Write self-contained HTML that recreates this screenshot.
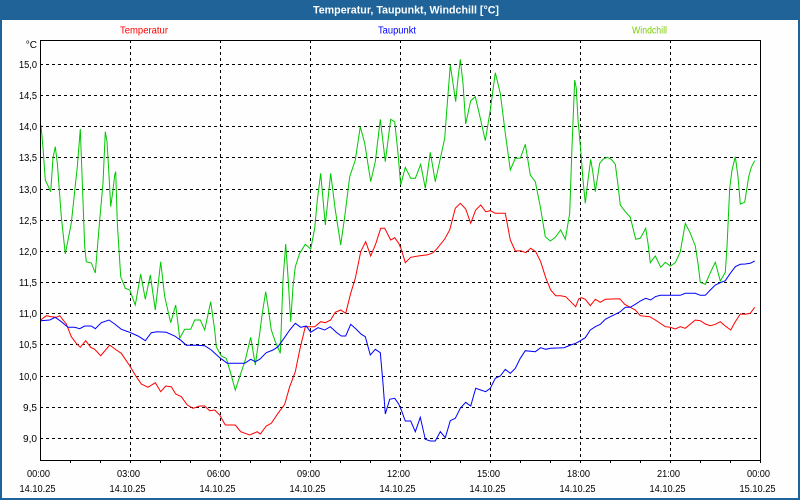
<!DOCTYPE html>
<html><head><meta charset="utf-8"><style>
html,body{margin:0;padding:0;background:#fff;}
svg{display:block;}
text{font-family:"Liberation Sans",Arial,sans-serif;}
</style></head><body>
<svg width="800" height="500" viewBox="0 0 800 500" xmlns="http://www.w3.org/2000/svg">
<rect x="0" y="0" width="800" height="500" fill="#fdfefd"/>
<rect x="0" y="0" width="800" height="20" fill="#1f6398"/>
<rect x="0" y="0" width="2" height="500" fill="#1f6398"/>
<rect x="798" y="0" width="2" height="500" fill="#1f6398"/>
<rect x="0" y="498" width="800" height="2" fill="#1f6398"/>
<text x="406" y="13.5" font-size="11" font-weight="bold" fill="#fff" text-anchor="middle" textLength="186" lengthAdjust="spacingAndGlyphs">Temperatur, Taupunkt, Windchill [°C]</text>
<text x="144" y="33.5" font-size="10" fill="#ff0000" text-anchor="middle" textLength="48" lengthAdjust="spacingAndGlyphs">Temperatur</text>
<text x="397" y="33.5" font-size="10" fill="#0000ff" text-anchor="middle" textLength="38" lengthAdjust="spacingAndGlyphs">Taupunkt</text>
<text x="649.5" y="33.5" font-size="10" fill="#7ccf00" text-anchor="middle" textLength="35" lengthAdjust="spacingAndGlyphs">Windchill</text>

<g stroke="#000" stroke-width="1" stroke-dasharray="3,3" shape-rendering="crispEdges">
<line x1="40" y1="64.5" x2="760" y2="64.5"/>
<line x1="40" y1="95.5" x2="760" y2="95.5"/>
<line x1="40" y1="126.5" x2="760" y2="126.5"/>
<line x1="40" y1="157.5" x2="760" y2="157.5"/>
<line x1="40" y1="189.5" x2="760" y2="189.5"/>
<line x1="40" y1="220.5" x2="760" y2="220.5"/>
<line x1="40" y1="251.5" x2="760" y2="251.5"/>
<line x1="40" y1="282.5" x2="760" y2="282.5"/>
<line x1="40" y1="313.5" x2="760" y2="313.5"/>
<line x1="40" y1="344.5" x2="760" y2="344.5"/>
<line x1="40" y1="376.5" x2="760" y2="376.5"/>
<line x1="40" y1="407.5" x2="760" y2="407.5"/>
<line x1="40" y1="438.5" x2="760" y2="438.5"/>
<line x1="130.5" y1="40" x2="130.5" y2="460"/>
<line x1="220.5" y1="40" x2="220.5" y2="460"/>
<line x1="310.5" y1="40" x2="310.5" y2="460"/>
<line x1="400.5" y1="40" x2="400.5" y2="460"/>
<line x1="490.5" y1="40" x2="490.5" y2="460"/>
<line x1="580.5" y1="40" x2="580.5" y2="460"/>
<line x1="670.5" y1="40" x2="670.5" y2="460"/>
</g>

<g fill="none" stroke-width="1">
<polyline stroke="#00c800" points="41,125 43,148 45.3,180 50.7,191.7 53,158 55.3,146.7 57.3,163 61.3,216.7 65.3,254 71.3,223 77.3,166.7 80.3,129 84.7,246.7 86.3,261.7 91.3,263 95.3,273 99.7,220 103,183 105.3,131.7 107,141.7 108.7,170 110.7,206.7 113,190 114.7,175 115.7,171.7 117.3,223 120.7,276.7 125.3,288.3 129.7,290 135.3,305 140.7,274 145.3,299.3 150.3,275 155.3,310 160.7,261.7 164.7,296.7 170.7,322.7 175.7,305 179.7,338.3 184.7,329.3 190.7,329.3 194.7,320 200.3,320 204.7,330 210.7,301.7 214.7,330 216.3,346.7 221.3,356 226.3,358.3 230.7,373.3 235.3,390 239.7,376.7 245.3,360 250.7,337.3 255.3,365 259.7,333.3 262.3,313.3 265.7,291.7 268,306.7 271.3,330 275.3,341.7 280.3,353.3 283,280 285.7,244 288,276.7 290.7,321.7 293,286.7 295.3,266.7 299.7,253.3 305.3,244.3 310.7,249 314.7,228.3 317.3,200 320.7,173.3 325.3,225 330.7,173.3 335.3,210 340.7,245 344.7,216.7 349.7,176.7 355.3,160 360.3,126.7 364.7,143.3 370.7,181.7 375.3,161.7 380.3,119.3 385.3,161.7 390.7,119.3 394.7,121.7 398,153.3 400.7,185 405.3,167.3 410.7,178.3 415.3,178.3 420.7,164.3 425.3,188.3 430.3,152.3 435.3,181.7 440.7,156.7 444.7,138.3 447.3,103.3 450.3,65 453,83.3 455.7,101.7 458,78.3 460.3,59.3 463,83.3 465.7,124 470.7,100.7 475.3,96.7 480.7,120 485.3,140.7 490.3,110 495.3,72.7 500.3,93.3 505.3,133.3 510.3,170 515.3,158.3 520.3,158.3 525.3,144.3 530.3,175 535.3,181.7 540.3,206.7 545.3,236.7 550.3,241 555.3,237.3 560.7,230 565.3,239.3 569.7,213.3 572,146.7 574.7,80 576.3,88.3 578,120 580.7,150 583,180 585.3,203.3 588,180 590.7,159.3 593,173.3 595.3,191.7 599.7,163.3 603,159.3 607.3,157.3 611.3,159.3 615.3,164.3 618,185 620.3,205 625.3,211.7 630.3,217.3 633,228.3 635.7,239.3 640.3,238.3 645.7,228.3 648,243.3 650.3,262.7 655.3,256 660.7,267.3 665.3,262.3 670.3,266 675.3,262.7 680.3,251.7 685.3,223.3 690.3,233.3 695.3,246 698,263.3 700.3,282.3 705.3,284.3 710.3,272.7 715.3,262.3 720.3,281 725.3,272.3 727,246.7 729.7,188.3 732,170 735.3,156.7 738,176.7 740.3,204 744.7,202.3 748.7,176.7 751.3,167.3 754.7,160.7"/>
<polyline stroke="#ff0000" points="40.7,320 46.3,315.7 51.3,316.7 56.3,317.3 59.7,315.7 66.3,324 71.3,336.7 76.3,343.3 80.3,347.3 85.7,340.7 90.7,347.3 94.7,349.3 100.7,355.7 109.7,345 116.3,350 121.3,353.3 129.7,365.7 136.3,376.7 141.3,384 148,387.3 155.3,382.7 160.7,391.7 165.7,386 171.3,386.7 175.7,394 181.3,396.7 187.3,405 193,408.3 199.7,406 204.7,406 209.7,410.7 214.7,410 219.7,415 225.3,425 235.3,425 240.7,431.7 249.7,435 257.3,431.7 260.3,434 266.3,426 271.3,423.3 278,413.3 284.7,404.3 289.7,386.7 295.3,371.7 299.7,350 305.3,326.7 314.7,326.7 320.7,321.7 325.3,322.7 330.7,320 335.3,312.3 340.7,310 345.7,313.3 350.7,293.3 355.3,278.3 360.7,251.7 365.7,241.7 370.7,256 375.7,244 380.7,228.3 384.7,228.3 390.7,240 394.7,237.7 398.7,243.3 401.3,249.3 405.3,262.7 410.7,257.3 419.7,255.7 428,254.7 433,252.7 437.3,248.3 444.7,239 449.7,230 455.3,208.3 460.3,203.3 465.7,209 470.7,223.3 475.7,210 480.7,205 485.7,211.7 490.3,210.7 495.3,213.3 505.3,213.3 510.3,240 515.3,251 520.7,250.7 525.7,252.7 530.7,248.3 535.7,251.7 540.7,261.7 545.7,277.7 550.7,290 555.7,295.7 560.7,295.7 565.7,296.7 570.7,301.7 575.7,306.7 578.7,299 581.3,297.7 585.3,299.3 590.3,305.7 595.3,299.3 600.3,302.3 605.3,299.3 619.7,298.7 624.7,304.3 630.3,307.3 635.3,310 640.3,315.7 649.7,316.7 655.3,320 665.3,326.7 670.3,327.3 675.3,329 680.3,326.7 685.3,328.3 695.3,320 700.3,320.7 705.3,324 710.3,325.7 715.3,324.3 720.3,321.7 725.3,326 730.7,330 735.3,321.7 740.3,314 745.3,314.3 750.3,313.3 754.7,307.3"/>
<polyline stroke="#0000ff" points="40.7,320.7 49.7,320 55.3,317.3 61.3,321.7 68,327.3 74.7,327.3 79.7,328.7 84.7,326 91.3,326 95.3,328.7 101.3,322.7 109,320 114.7,324 121.3,329.3 129.7,332.3 138,336 145.3,340.7 151.3,332.7 157,331.7 166.3,332.3 174.7,336 181.3,340.7 186.3,345.3 196.3,345.3 204.7,345.7 211.3,350 219.7,357.7 227.3,363.3 244.7,363.3 250.7,359.3 255.3,361.7 259.7,359.3 266.3,352.7 273,350 278,346.7 284.7,337.3 289.7,330 295.3,323.3 300.7,327.3 306.3,326 310.7,332.3 318,327.7 324.7,330 330.3,326.7 336.3,332.3 341.3,336 345.7,336 350.7,324.3 356.3,329.3 361.3,334.3 365.3,336.7 370.3,355 375.3,349.3 380.3,352.7 383,383.3 385.3,414 389.7,399.3 394.7,398.3 398.7,404 401.3,410 405.3,421 410.7,421 415.3,431.7 420.3,417.3 425.3,439.3 430.3,441 435.3,441 440.3,431.7 445.3,437.7 450.3,420.7 455.3,418.3 460.3,408.3 465.7,402.3 470.7,406 475.7,388.3 480.7,390 485.7,391.7 490.3,388.3 495.3,378.3 500.3,376 505.3,369.3 510.3,373.3 515.3,368.3 520.3,358.3 525.3,350.7 535.3,351.7 540.7,347.7 545.7,349.3 550.7,348.3 564,347.7 570.7,345 575.7,343.3 578.7,341.7 585.3,337.7 590.3,330 595.3,326.7 600.3,324.3 605.3,319.3 610.3,316.7 615.3,314.3 620.3,311.7 625.3,307.3 630.3,307.3 635.3,304.3 640.3,301 645.7,298.3 650.7,300 655.3,296.7 660.3,295.3 680.3,295.3 685.3,293.3 695.3,293.3 700.3,295.3 705.3,295.3 710.3,290 715.3,285 720.3,282.7 725.3,280.7 730.3,273.3 735.3,266.7 740.3,264.3 745.3,264 750.3,263.3 754.7,261"/>
</g>

<g stroke="#000" stroke-width="1" shape-rendering="crispEdges" fill="none">
<rect x="40.5" y="40.5" width="720" height="420"/>
<line x1="70.5" y1="460" x2="70.5" y2="463"/>
<line x1="100.5" y1="460" x2="100.5" y2="463"/>
<line x1="130.5" y1="460" x2="130.5" y2="463"/>
<line x1="160.5" y1="460" x2="160.5" y2="463"/>
<line x1="190.5" y1="460" x2="190.5" y2="463"/>
<line x1="220.5" y1="460" x2="220.5" y2="463"/>
<line x1="250.5" y1="460" x2="250.5" y2="463"/>
<line x1="280.5" y1="460" x2="280.5" y2="463"/>
<line x1="310.5" y1="460" x2="310.5" y2="463"/>
<line x1="340.5" y1="460" x2="340.5" y2="463"/>
<line x1="370.5" y1="460" x2="370.5" y2="463"/>
<line x1="400.5" y1="460" x2="400.5" y2="463"/>
<line x1="430.5" y1="460" x2="430.5" y2="463"/>
<line x1="460.5" y1="460" x2="460.5" y2="463"/>
<line x1="490.5" y1="460" x2="490.5" y2="463"/>
<line x1="520.5" y1="460" x2="520.5" y2="463"/>
<line x1="550.5" y1="460" x2="550.5" y2="463"/>
<line x1="580.5" y1="460" x2="580.5" y2="463"/>
<line x1="610.5" y1="460" x2="610.5" y2="463"/>
<line x1="640.5" y1="460" x2="640.5" y2="463"/>
<line x1="670.5" y1="460" x2="670.5" y2="463"/>
<line x1="700.5" y1="460" x2="700.5" y2="463"/>
<line x1="730.5" y1="460" x2="730.5" y2="463"/>
<line x1="760.5" y1="460" x2="760.5" y2="463"/>
</g>

<g font-size="10" fill="#000" text-anchor="end">
<text x="37" y="48">°C</text>
<text x="37" y="68" textLength="18" lengthAdjust="spacingAndGlyphs">15,0</text>
<text x="37" y="99" textLength="18" lengthAdjust="spacingAndGlyphs">14,5</text>
<text x="37" y="130" textLength="18" lengthAdjust="spacingAndGlyphs">14,0</text>
<text x="37" y="161" textLength="18" lengthAdjust="spacingAndGlyphs">13,5</text>
<text x="37" y="193" textLength="18" lengthAdjust="spacingAndGlyphs">13,0</text>
<text x="37" y="224" textLength="18" lengthAdjust="spacingAndGlyphs">12,5</text>
<text x="37" y="255" textLength="18" lengthAdjust="spacingAndGlyphs">12,0</text>
<text x="37" y="286" textLength="18" lengthAdjust="spacingAndGlyphs">11,5</text>
<text x="37" y="317" textLength="18" lengthAdjust="spacingAndGlyphs">11,0</text>
<text x="37" y="348" textLength="18" lengthAdjust="spacingAndGlyphs">10,5</text>
<text x="37" y="380" textLength="18" lengthAdjust="spacingAndGlyphs">10,0</text>
<text x="37" y="411" textLength="14" lengthAdjust="spacingAndGlyphs">9,5</text>
<text x="37" y="442" textLength="14" lengthAdjust="spacingAndGlyphs">9,0</text>
</g>

<g font-size="10" fill="#000" text-anchor="middle">
<text x="38.5" y="477" textLength="23" lengthAdjust="spacingAndGlyphs">00:00</text>
<text x="128.5" y="477" textLength="23" lengthAdjust="spacingAndGlyphs">03:00</text>
<text x="218.5" y="477" textLength="23" lengthAdjust="spacingAndGlyphs">06:00</text>
<text x="308.5" y="477" textLength="23" lengthAdjust="spacingAndGlyphs">09:00</text>
<text x="398.5" y="477" textLength="23" lengthAdjust="spacingAndGlyphs">12:00</text>
<text x="488.5" y="477" textLength="23" lengthAdjust="spacingAndGlyphs">15:00</text>
<text x="578.5" y="477" textLength="23" lengthAdjust="spacingAndGlyphs">18:00</text>
<text x="668.5" y="477" textLength="23" lengthAdjust="spacingAndGlyphs">21:00</text>
<text x="758.5" y="477" textLength="23" lengthAdjust="spacingAndGlyphs">00:00</text>
<text x="37.5" y="492" textLength="36" lengthAdjust="spacingAndGlyphs">14.10.25</text>
<text x="127.5" y="492" textLength="36" lengthAdjust="spacingAndGlyphs">14.10.25</text>
<text x="217.5" y="492" textLength="36" lengthAdjust="spacingAndGlyphs">14.10.25</text>
<text x="307.5" y="492" textLength="36" lengthAdjust="spacingAndGlyphs">14.10.25</text>
<text x="397.5" y="492" textLength="36" lengthAdjust="spacingAndGlyphs">14.10.25</text>
<text x="487.5" y="492" textLength="36" lengthAdjust="spacingAndGlyphs">14.10.25</text>
<text x="577.5" y="492" textLength="36" lengthAdjust="spacingAndGlyphs">14.10.25</text>
<text x="667.5" y="492" textLength="36" lengthAdjust="spacingAndGlyphs">14.10.25</text>
<text x="757.5" y="492" textLength="36" lengthAdjust="spacingAndGlyphs">15.10.25</text>
</g>
</svg>
</body></html>
